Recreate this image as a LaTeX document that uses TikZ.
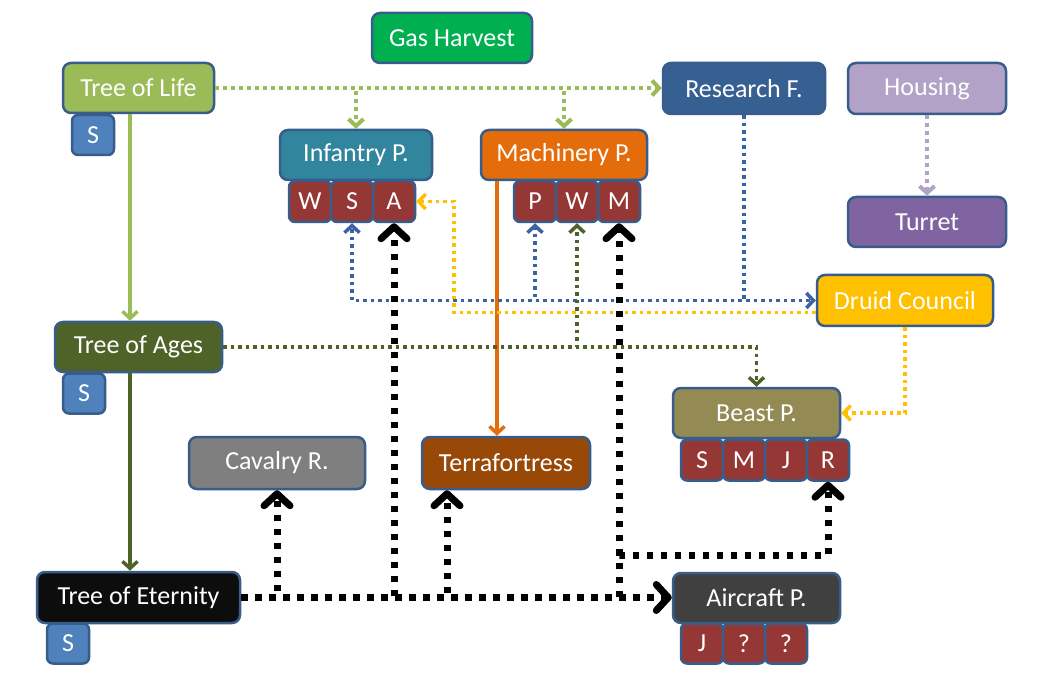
\documentclass[tikz,border=0pt]{standalone}
\usepackage{fontspec}
\setmainfont{Carlito}
\usetikzlibrary{arrows.meta}
\definecolor{bord}{HTML}{385D8A}
\definecolor{cGas}{HTML}{00B050}
\definecolor{cTol}{HTML}{9BBB59}
\definecolor{cRes}{HTML}{376092}
\definecolor{cHou}{HTML}{B3A2C7}
\definecolor{cTur}{HTML}{8064A2}
\definecolor{cInf}{HTML}{31859C}
\definecolor{cMac}{HTML}{E46C0A}
\definecolor{cSub}{HTML}{953735}
\definecolor{cS}{HTML}{4F81BD}
\definecolor{cToa}{HTML}{4F6228}
\definecolor{cToe}{HTML}{0D0D0D}
\definecolor{cCav}{HTML}{7F7F7F}
\definecolor{cTer}{HTML}{984807}
\definecolor{cBea}{HTML}{948A54}
\definecolor{cAir}{HTML}{404040}
\definecolor{cDru}{HTML}{FFC000}
\definecolor{cBlueLine}{HTML}{3A63A0}
\begin{document}
\begin{tikzpicture}[x=1pt,y=-1pt,
  box/.style={draw=bord, line width=2.5pt, rounded corners=8pt, text=white,
    font=\fontsize{26}{30}\selectfont, inner sep=0pt, anchor=center},
  sub/.style={box, fill=cSub, minimum width=42pt, minimum height=41pt, rounded corners=6pt},
  sbox/.style={box, fill=cS, minimum width=42pt, minimum height=40pt, rounded corners=6pt},
  tipthin/.style={-{Straight Barb[length=7pt,width=15pt]}},
  tipthick/.style={-{Straight Barb[length=12pt,width=26pt,round]}},
  gdot/.style={draw=cTol, line width=4pt, dash pattern=on 4pt off 4pt, tipthin},
  bdot/.style={draw=cBlueLine, line width=3.5pt, dash pattern=on 3.5pt off 4pt, tipthin},
  ydot/.style={draw=cDru, line width=3.5pt, dash pattern=on 3.5pt off 4pt, tipthin},
  odot/.style={draw=cToa, line width=3.5pt, dash pattern=on 3.5pt off 4pt, tipthin},
  pdot/.style={draw=cHou, line width=4pt, dash pattern=on 4pt off 4pt, tipthin},
  kdot/.style={draw=black, line width=7pt, dash pattern=on 6.5pt off 7.5pt, tipthick},
  solidline/.style={line width=3.5pt, tipthin}
]
\useasboundingbox (0,0) rectangle (1046,692);
\fill[white] (0,0) rectangle (1046,692);

% main boxes
\node[box, fill=cGas, minimum width=160pt, minimum height=50pt] (gas) at (452,38) {Gas Harvest};
\node[box, fill=cTol, minimum width=151pt, minimum height=50pt] (tol) at (138.5,88) {Tree of Life};
\node[sbox] (tols) at (93,135) {S};
\node[box, fill=cRes, minimum width=162pt, minimum height=51pt] (res) at (744,88.5) {Research F.};
\node[box, fill=cHou, minimum width=158pt, minimum height=51pt] (hou) at (927,88.5) {Housing};
\node[box, fill=cTur, minimum width=158pt, minimum height=50pt] (tur) at (927,222) {Turret};

\node[sub] (infW) at (310,201.5) {W};
\node[sub] (infS) at (352,201.5) {S};
\node[sub] (infA) at (394,201.5) {A};
\node[box, fill=cInf, minimum width=152pt, minimum height=50pt] (inf) at (356,155) {Infantry P.};

\node[sub] (macP) at (535,201.5) {P};
\node[sub] (macW) at (577,201.5) {W};
\node[sub] (macM) at (619,201.5) {M};
\node[box, fill=cMac, minimum width=166pt, minimum height=50pt] (mac) at (564,155) {Machinery P.};

\node[box, fill=cToa, minimum width=167pt, minimum height=50pt] (toa) at (138.5,347) {Tree of Ages};
\node[sbox] (toas) at (84,393.5) {S};

\node[box, fill=cToe, minimum width=203pt, minimum height=51pt] (toe) at (138.5,597.5) {Tree of Eternity};
\node[sbox] (toes) at (68,643.5) {S};

\node[box, fill=cCav, minimum width=176pt, minimum height=52pt] (cav) at (277,463) {Cavalry R.};
\node[box, fill=cTer, minimum width=168pt, minimum height=52pt] (ter) at (506,463) {Terrafortress};

\node[sub] (beaS) at (702,460) {S};
\node[sub] (beaM) at (744,460) {M};
\node[sub] (beaJ) at (786,460) {J};
\node[sub] (beaR) at (828,460) {R};
\node[box, fill=cBea, minimum width=167pt, minimum height=50pt] (bea) at (756.5,413) {Beast P.};

\node[sub, minimum height=40pt] (airJ) at (702,643.5) {J};
\node[sub, minimum height=40pt] (airQa) at (744,643.5) {?};
\node[sub, minimum height=40pt] (airQb) at (786,643.5) {?};
\node[box, fill=cAir, minimum width=167pt, minimum height=50pt] (air) at (756.5,598) {Aircraft P.};

\node[box, fill=cDru, minimum width=176pt, minimum height=51pt] (dru) at (905,300.5) {Druid Council};

% solid connectors
\draw[solidline, draw=cTol] ([xshift=-8.5pt]tol.south) -- ([xshift=-8.5pt]toa.north);
\draw[solidline, draw=cToa] ([xshift=-8.5pt]toa.south) -- ([xshift=-8.5pt]toe.north);
\draw[solidline, draw=cMac] ([xshift=-67pt]mac.south) -- ([xshift=-67pt]mac.south |- ter.north);

% dotted connectors
\draw[pdot] (hou.south) -- (tur.north);
\draw[gdot] (tol.east) -- (tol.east -| res.west);
\draw[gdot] (tol.east) -| (inf.north);
\draw[gdot] (tol.east) -| (mac.north);

\draw[bdot] (res.south) |- (dru.west);
\draw[bdot] (res.south) |- (infS.south |- dru.west) -- (infS.south);
\draw[bdot] (res.south) |- (macP.south |- dru.west) -- (macP.south);

\draw[ydot] ([yshift=-12pt]dru.west) -- ++(-362,0) |- (infA.east);
\draw[ydot] (dru.south) |- (bea.east);

\draw[odot] (toa.east) -| (bea.north);
\draw[odot] (toa.east) -| (macW.south);

\draw[kdot] (toe.east) -- (toe.east -| air.west);
\draw[kdot] (toe.east) -| (cav.south);
\draw[kdot] (toe.east) -| (infA.south);
\draw[kdot] (toe.east) -| ([xshift=-59pt]ter.south);
\draw[kdot] (toe.east) -| (macM.south);
\draw[kdot] (toe.east) -- (toe.east -| macM.south) -- ++(0,-42.5) -| (beaR.south);
\end{tikzpicture}
\end{document}
